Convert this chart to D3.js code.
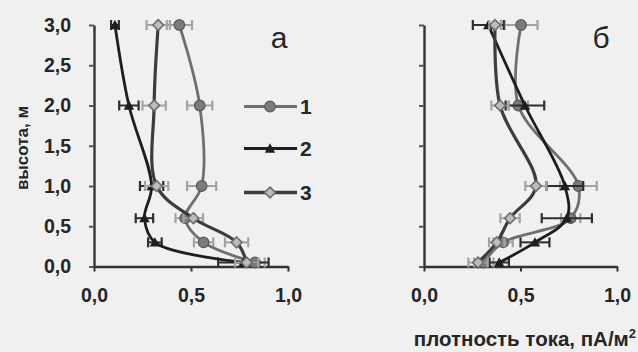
<!DOCTYPE html>
<html>
<head>
<meta charset="utf-8">
<script src="https://cdn.jsdelivr.net/npm/d3@7"></script>
<style>
  html, body { margin: 0; padding: 0; background: #f0f0f0; }
  svg { display: block; }
  text { font-family: Arial, "Liberation Sans", sans-serif; font-weight: bold; fill: #262626; }
</style>
</head>
<body>
<svg id="chart" width="638" height="352"></svg>
<script>
// Heights of the measurement points, m
const heights = [3.0, 2.0, 1.0, 0.6, 0.3, 0.05];

// Panel "а": current density, pA/m², with half-widths of the error bars
const a1 = [0.44, 0.545, 0.555, 0.47, 0.565, 0.83];
const a1Err = [0.065, 0.065, 0.075, 0.05, 0.05, 0.05];
const a2 = [0.108, 0.18, 0.297, 0.26, 0.314, 0.77];
const a2Err = [0.02, 0.05, 0.06, 0.045, 0.035, 0.13];
const a3 = [0.331, 0.31, 0.323, 0.512, 0.735, 0.787];
const a3Err = [0.06, 0.06, 0.06, 0.05, 0.06, 0.06];

// Panel "б"
const b1 = [0.503, 0.489, 0.80, 0.76, 0.41, 0.31];
const b1Err = [0.085, 0.05, 0.095, 0.05, 0.05, 0.05];
const b2 = [0.333, 0.523, 0.73, 0.74, 0.575, 0.39];
const b2Err = [0.08, 0.1, 0.095, 0.13, 0.075, 0.05];
const b3 = [0.368, 0.394, 0.58, 0.446, 0.377, 0.28];
const b3Err = [0.03, 0.045, 0.055, 0.05, 0.04, 0.05];

const seriesNames = ["1", "2", "3"];
const yTicks = [0, 0.5, 1.0, 1.5, 2.0, 2.5, 3.0];
const xTicks = [0, 0.5, 1.0];
const panelLetters = ["а", "б"];
const yTitle = "высота, м";
const xTitle = "плотность тока, пА/м";

const fmt = v => d3.format(".1f")(v).replace(".", ",");

const styles = [
  { line: "#6f6f6f", width: 2.8, err: "#a3a3a3", marker: "circle", fill: "#7b7b7b", stroke: "#5a5a5a" },
  { line: "#1e1e1e", width: 2.8, err: "#2e2e2e", marker: "triangle", fill: "#1e1e1e", stroke: "#1e1e1e" },
  { line: "#3c3c3c", width: 3.2, err: "#a3a3a3", marker: "diamond", fill: "#bdbdbd", stroke: "#6e6e6e" }
];

const svg = d3.select("#chart");

function build(vals, errs) {
  return heights.map((h, i) => ({ h, x: vals[i], e: errs[i] }));
}

const panels = [
  { x0: 94, x1: 288, series: [build(a1, a1Err), build(a2, a2Err), build(a3, a3Err)], letter: panelLetters[0], letterX: 279, labelsY: true },
  { x0: 424, x1: 617, series: [build(b1, b1Err), build(b2, b2Err), build(b3, b3Err)], letter: panelLetters[1], letterX: 601, labelsY: false }
];

const yScale = d3.scaleLinear().domain([0, 3]).range([266.5, 25]);

function drawMarker(g, type, cx, cy, st) {
  if (type === "circle") {
    g.append("circle").attr("cx", cx).attr("cy", cy).attr("r", 5.3)
      .attr("fill", st.fill).attr("stroke", st.stroke).attr("stroke-width", 1.2);
  } else if (type === "triangle") {
    const s = 5.2;
    g.append("path").attr("d", `M${cx},${cy - s} L${cx + s},${cy + s * 0.8} L${cx - s},${cy + s * 0.8} Z`)
      .attr("fill", st.fill);
  } else {
    const s = 5.4;
    g.append("path").attr("d", `M${cx},${cy - s} L${cx + s},${cy} L${cx},${cy + s} L${cx - s},${cy} Z`)
      .attr("fill", st.fill).attr("stroke", st.stroke).attr("stroke-width", 1.6);
  }
}

panels.forEach(p => {
  const x = d3.scaleLinear().domain([0, 1]).range([p.x0, p.x1]);
  const g = svg.append("g");

  // y axis
  const yAx = g.append("g").attr("transform", `translate(${p.x0},0)`)
    .call(d3.axisLeft(yScale).tickValues(yTicks).tickSize(5).tickSizeOuter(0)
      .tickFormat(p.labelsY ? fmt : ""));
  yAx.select(".domain").attr("stroke", "#333").attr("stroke-width", 2.4);
  yAx.selectAll(".tick line").attr("stroke", "#555").attr("stroke-width", 2);
  yAx.selectAll(".tick text").attr("x", -23).attr("font-size", 19.5).attr("font-family", "Arial, 'Liberation Sans', sans-serif")
    .attr("font-weight", "bold").attr("fill", "#262626");

  // x axis
  const xAx = g.append("g").attr("transform", `translate(0,${yScale(0)})`)
    .call(d3.axisBottom(x).tickValues(xTicks).tickSize(5).tickSizeOuter(0).tickFormat(fmt));
  xAx.select(".domain").attr("stroke", "#333").attr("stroke-width", 2.4);
  xAx.selectAll(".tick line").attr("stroke", "#333").attr("stroke-width", 2);
  xAx.selectAll(".tick text").attr("y", 22).attr("font-size", 19.5).attr("font-family", "Arial, 'Liberation Sans', sans-serif")
    .attr("font-weight", "bold").attr("fill", "#262626");

  const line = d3.line().x(d => x(d.x)).y(d => yScale(d.h)).curve(d3.curveCatmullRom.alpha(0.5));

  p.series.forEach((data, si) => {
    const st = styles[si];
    const sg = g.append("g");
    // error bars
    data.forEach(d => {
      const yy = yScale(d.h), xl = x(d.x - d.e), xr = x(d.x + d.e);
      sg.append("line").attr("x1", xl).attr("x2", xr).attr("y1", yy).attr("y2", yy)
        .attr("stroke", st.err).attr("stroke-width", 2);
      [xl, xr].forEach(xc => sg.append("line").attr("x1", xc).attr("x2", xc)
        .attr("y1", yy - 5).attr("y2", yy + 5).attr("stroke", st.err).attr("stroke-width", 2.2));
    });
    sg.append("path").datum(data).attr("d", line).attr("fill", "none")
      .attr("stroke", st.line).attr("stroke-width", st.width);
    data.forEach(d => drawMarker(sg, st.marker, x(d.x), yScale(d.h), st));
  });

  g.append("text").attr("x", p.letterX).attr("y", 48).attr("text-anchor", "middle")
    .attr("font-size", 30).style("font-weight", "normal")
    .attr("fill", "#262626").text(p.letter);
});

// legend
const legendYs = [106.5, 148.5, 192.5];
seriesNames.forEach((name, i) => {
  const st = styles[i];
  const lg = svg.append("g");
  lg.append("line").attr("x1", 244).attr("x2", 297).attr("y1", legendYs[i]).attr("y2", legendYs[i])
    .attr("stroke", st.line).attr("stroke-width", st.width + 0.4);
  drawMarker(lg, st.marker, 270, legendYs[i], st);
  lg.append("text").attr("x", 300).attr("y", legendYs[i] + 7.5).attr("font-size", 21).text(name);
});

// axis titles
svg.append("text").attr("transform", "translate(28,148) rotate(-90)").attr("text-anchor", "middle")
  .attr("font-size", 17).text(yTitle);
const xt = svg.append("text").attr("x", 636).attr("y", 346).attr("text-anchor", "end").attr("font-size", 20.5);
xt.append("tspan").text(xTitle);
xt.append("tspan").attr("font-size", 13).attr("dy", -8).text("2");
</script>
</body>
</html>
